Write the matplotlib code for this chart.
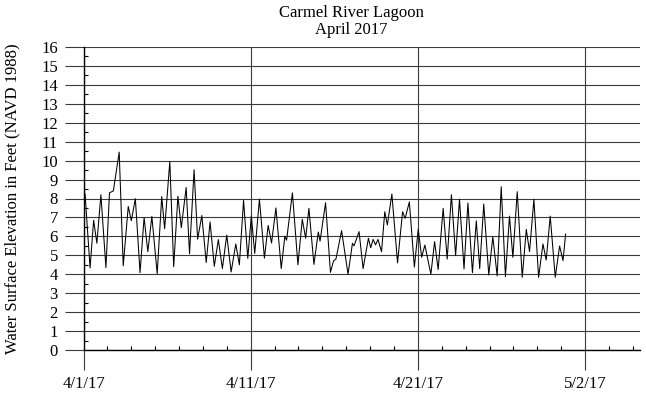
import numpy as np
import matplotlib
matplotlib.use("Agg")
import matplotlib.pyplot as plt
from matplotlib.ticker import MultipleLocator, FixedLocator

# days since 4/1/17 of each high / low turn of the record, and elevation (ft)
days = [
    0.00, 0.09, 0.40, 0.62, 0.82, 1.07, 1.38, 1.60, 1.84, 2.20,
    2.45, 2.76, 2.95, 3.20, 3.49, 3.74, 3.97, 4.22, 4.55, 4.83,
    5.01, 5.33, 5.57, 5.83, 6.04, 6.34, 6.55, 6.83, 7.05, 7.31,
    7.58, 7.82, 8.08, 8.33, 8.58, 8.85, 9.12, 9.41, 9.63, 9.89,
    10.15, 10.37, 10.58, 10.87, 11.18, 11.41, 11.62, 11.89, 12.22, 12.44,
    12.55, 12.91, 13.25, 13.52, 13.73, 13.93, 14.24, 14.51, 14.62, 14.96,
    15.26, 15.45, 15.60, 15.95, 16.35, 16.62, 16.72, 17.03, 17.28, 17.61,
    17.75, 17.90, 18.05, 18.20, 18.42, 18.62, 18.78, 19.06, 19.41, 19.72,
    19.88, 20.14, 20.45, 20.69, 20.90, 21.10, 21.47, 21.70, 21.92, 22.23,
    22.48, 22.74, 23.00, 23.24, 23.52, 23.76, 24.04, 24.28, 24.49, 24.74,
    25.05, 25.30, 25.57, 25.82, 26.08, 26.33, 26.54, 26.81, 27.12, 27.37,
    27.57, 27.84, 28.13, 28.40, 28.60, 28.85, 29.16, 29.43, 29.64, 29.80,
]
elev = [
    8.00, 8.25, 4.33, 6.85, 5.64, 8.20, 4.35, 8.30, 8.40, 10.45,
    4.45, 7.58, 6.83, 7.99, 4.08, 7.00, 5.19, 7.05, 4.03, 8.10,
    6.40, 9.95, 4.40, 8.12, 6.46, 8.58, 5.08, 9.52, 5.85, 7.10,
    4.62, 6.76, 4.42, 5.83, 4.30, 6.07, 4.12, 5.60, 4.50, 7.90,
    4.84, 7.08, 5.10, 7.97, 4.85, 6.58, 5.65, 7.50, 4.30, 6.00,
    5.80, 8.30, 4.50, 6.90, 5.90, 7.48, 4.52, 6.23, 5.75, 7.78,
    4.10, 4.70, 4.80, 6.30, 4.00, 5.63, 5.50, 6.25, 4.30, 5.90,
    5.40, 5.84, 5.55, 5.84, 5.19, 7.30, 6.60, 8.24, 4.60, 7.30,
    6.95, 7.82, 4.38, 6.38, 4.90, 5.54, 4.00, 5.72, 4.25, 7.48,
    4.80, 8.20, 4.98, 7.96, 4.28, 7.76, 4.08, 6.82, 4.30, 7.71,
    3.96, 5.98, 3.91, 8.62, 3.87, 7.07, 4.89, 8.36, 3.84, 6.37,
    5.19, 7.96, 3.84, 5.60, 4.75, 7.07, 3.84, 5.49, 4.72, 6.12,
]
date_labels = ["4/1/17", "4/11/17", "4/21/17", "5/2/17"]
major_step = 31 / 3  # axis unit in days between labelled dates

plt.rcParams["font.family"] = ["Liberation Serif", "DejaVu Serif"]

fig = plt.figure(figsize=(6.46, 3.95), dpi=100)
ax = fig.add_axes([83.6 / 646, 1 - 350 / 395, (640 - 83.6) / 646, (350 - 47) / 395])

ax.plot(days, elev, color="black", lw=0.75)

ax.set_xlim(0, 34.4)
ax.set_ylim(0, 16)

xt = [i * major_step for i in range(len(date_labels))]
ax.xaxis.set_major_locator(FixedLocator(xt))
ax.set_xticklabels(date_labels)
ax.xaxis.set_minor_locator(MultipleLocator(major_step / 7))
ax.yaxis.set_major_locator(MultipleLocator(1))
ax.yaxis.set_minor_locator(MultipleLocator(0.5))

ax.grid(True, which="major", color="#3a3a3a", lw=0.8)
ax.set_axisbelow(True)
ax.tick_params(which="major", direction="out", length=13.5, width=0.8,
               color="#3a3a3a", labelsize=12, pad=5)
ax.tick_params(axis="x", which="major", length=14.5, pad=4)
ax.tick_params(which="minor", direction="in", length=3, width=0.8, color="black")

for s in ["top", "right"]:
    ax.spines[s].set_visible(False)
for s in ["left", "bottom"]:
    ax.spines[s].set_color("black")
    ax.spines[s].set_linewidth(1.0)

fig.text(351 / 646, 1 - 13 / 395, "Carmel River Lagoon", ha="center", va="center", fontsize=12)
fig.text(351 / 646, 1 - 30 / 395, "April 2017", ha="center", va="center", fontsize=12)
fig.text(12 / 646, 1 - 198.5 / 395, "Water Surface Elevation in Feet (NAVD 1988)",
         rotation=90, ha="center", va="center", fontsize=12)

fig.savefig("out.png", dpi=100)
